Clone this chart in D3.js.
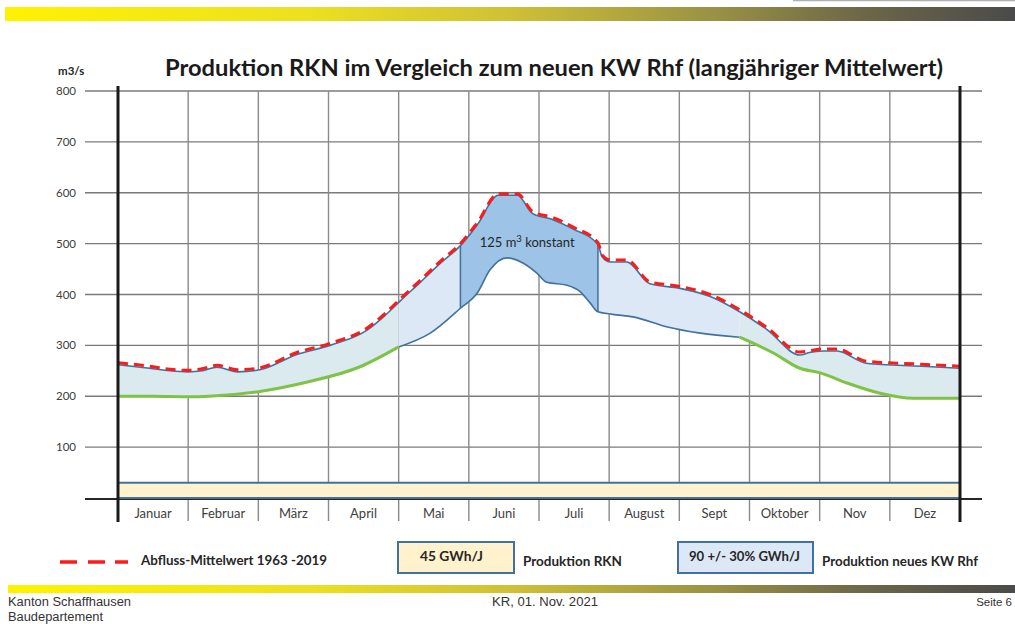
<!DOCTYPE html>
<html><head><meta charset="utf-8">
<script src="https://cdn.jsdelivr.net/npm/d3@7"></script>
<style>body{margin:0;background:#fff}svg{display:block}</style>
</head><body>
<script>
// ---- data (x = month position, 0 = start of Januar; y = m3/s) ----
const months = ["Januar","Februar","März","April","Mai","Juni","Juli","August","Sept","Oktober","Nov","Dez"];
const yTicks = [100,200,300,400,500,600,700,800];
const abflussMittel = [[0,266],[0.45,259],[0.74,253],[1.0,251],[1.2,254],[1.41,261],[1.7,252],[2.02,256],[2.55,286],[3.02,304],[3.55,334],[3.8,362],[4.02,391],[4.3,427],[4.6,466],[4.88,500],[5.12,541],[5.42,598],[5.69,598],[5.91,563],[6.2,551],[6.48,533],[6.84,502],[6.9,478],[7.01,468],[7.25,468],[7.58,425],[8.01,416],[8.44,400],[8.86,370],[9.25,335],[9.72,287],[10.05,293],[10.25,293],[10.66,269],[11.45,263],[12,259]];
const kwUpper = [[0,262],[0.45,255],[0.74,250],[1.0,248],[1.2,250],[1.41,257],[1.7,248],[2.02,252],[2.55,282],[3.02,300],[3.55,330],[3.8,358],[4.02,387],[4.3,423],[4.6,462],[4.88,496],[5.12,537],[5.42,595],[5.69,595],[5.91,559],[6.2,547],[6.48,529],[6.84,498],[6.9,474],[7.01,464],[7.25,464],[7.58,421],[8.01,412],[8.44,396],[8.86,366],[9.25,331],[9.72,281],[9.85,286],[10.05,289],[10.25,289],[10.66,265],[11.45,259],[12,255]];
const greenLeft = [[0,200],[0.5,200],[1.0,199],[1.3,200],[2.0,209],[2.7,228],[3.45,258],[4.0,297]];
const blueLower = [[4.0,297],[4.45,324],[4.88,373],[5.12,403],[5.3,448],[5.54,472],[5.77,462],[5.97,442],[6.11,424],[6.4,418],[6.59,405],[6.73,383],[6.84,366],[7.05,361],[7.34,356],[7.83,336],[8.3,324],[8.86,316]];
const greenRight = [[8.86,316],[9.34,285],[9.72,255],[10.01,246],[10.39,226],[10.86,206],[11.33,196],[12,196]];
const konstant = [4.88, 6.84];
const rknLevel = 30;

const W = 1015, H = 624;
const svg = d3.select("body").append("svg").attr("width", W).attr("height", H);
const defs = svg.append("defs");
const grad = defs.append("linearGradient").attr("id","bar").attr("x1","0").attr("x2","1");
[[0,"#fff200"],[0.3,"#ece020"],[0.5,"#cfc036"],[0.7,"#9a9244"],[0.85,"#6c6748"],[1,"#4a4a4a"]]
  .forEach(s => grad.append("stop").attr("offset", s[0]).attr("stop-color", s[1]));

const x = d3.scaleLinear().domain([0,12]).range([118,960]);
const y = d3.scaleLinear().domain([0,800]).range([498,91]);

// header / footer bars
svg.append("line").attr("x1",793).attr("x2",1015).attr("y1",0.5).attr("y2",0.5).attr("stroke","#b0b0b0").attr("stroke-width",1.5);
svg.append("rect").attr("x",5).attr("y",7).attr("width",1010).attr("height",14).attr("fill","url(#bar)");
svg.append("rect").attr("x",8).attr("y",585).attr("width",1007).attr("height",8).attr("fill","url(#bar)");

// clip paths
function clip(id, ranges){
  const c = defs.append("clipPath").attr("id", id);
  ranges.forEach(r => c.append("rect").attr("x", x(r[0])).attr("y", 0).attr("width", x(r[1]) - x(r[0])).attr("height", H));
}
clip("cOuter", [[0,4.0],[8.86,12]]);
clip("cMid", [[4.0,8.86]]);
clip("cKon", [konstant]);

// grid
const g = svg.append("g");
g.selectAll(".hg").data(yTicks).join("line")
  .attr("x1",85).attr("x2",982).attr("y1",d=>y(d)).attr("y2",d=>y(d))
  .attr("stroke","#7a7a7a").attr("stroke-width",1.4);
g.selectAll(".vg").data(d3.range(1,12)).join("line")
  .attr("x1",d=>x(d)).attr("x2",d=>x(d)).attr("y1",y(800)).attr("y2",521)
  .attr("stroke","#8a8a8a").attr("stroke-width",1.4);

// areas
const line = d3.line().x(d=>x(d[0])).y(d=>y(d[1])).curve(d3.curveMonotoneX);
const lowerAll = greenLeft.concat(blueLower.slice(1), greenRight.slice(1));
const poly = line(kwUpper) + "L" + line(lowerAll.slice().reverse()).slice(1) + "Z";
svg.append("path").attr("d", poly).attr("fill","#daeaee").attr("clip-path","url(#cOuter)");
svg.append("path").attr("d", poly).attr("fill","#dce8f5").attr("clip-path","url(#cMid)");
svg.append("path").attr("d", poly).attr("fill","#9dc3e6").attr("clip-path","url(#cKon)");
konstant.forEach(k => {
  const up = kwUpper.find(d=>d[0]===k)[1], lo = blueLower.find(d=>d[0]===k)[1];
  svg.append("line").attr("x1",x(k)).attr("x2",x(k)).attr("y1",y(lo)).attr("y2",y(up))
    .attr("stroke","#41719c").attr("stroke-width",1.5);
});

// lines
svg.append("path").attr("d", line(kwUpper)).attr("fill","none").attr("stroke","#41719c").attr("stroke-width",1.6);
svg.append("path").attr("d", line(blueLower)).attr("fill","none").attr("stroke","#41719c").attr("stroke-width",1.6);
[greenLeft, greenRight].forEach(a => svg.append("path").attr("d", line(a)).attr("fill","none").attr("stroke","#7ec345").attr("stroke-width",3));
svg.append("path").attr("d", line(abflussMittel)).attr("fill","none").attr("stroke","#ff1a1a").attr("stroke-width",3).attr("stroke-dasharray","10,6");

// x axis line & RKN band
svg.append("line").attr("x1",85).attr("x2",982).attr("y1",y(0)+1).attr("y2",y(0)+1).attr("stroke","#262626").attr("stroke-width",2);
svg.append("rect").attr("x",x(0)).attr("y",y(rknLevel)).attr("width",x(12)-x(0)).attr("height",y(0)-y(rknLevel))
  .attr("fill","#fff2cc").attr("stroke","#41719c").attr("stroke-width",2);

// thick axes
[0,12].forEach(m => svg.append("line").attr("x1",x(m)).attr("x2",x(m)).attr("y1",86).attr("y2",522).attr("stroke","#1a1a1a").attr("stroke-width",3));

// texts
const F = "Lato, 'Open Sans', sans-serif";
function txt(xp, yp, s, size, opts){
  const t = svg.append("text").attr("x",xp).attr("y",yp).attr("font-family",(opts&&opts.ff)||F)
    .attr("font-size",size).attr("fill",(opts&&opts.fill)||"#262626").text(s);
  if (opts && opts.bold) t.attr("font-weight","bold");
  if (opts && opts.len) t.attr("textLength",opts.len).attr("lengthAdjust","spacingAndGlyphs");
  if (opts && opts.anchor) t.attr("text-anchor",opts.anchor);
  return t;
}
svg.selectAll(".yl").data(yTicks).join("text")
  .attr("x",76).attr("y",d=>y(d)+4).attr("text-anchor","end")
  .attr("font-family",F).attr("font-size",11.5).attr("fill","#404040").text(d=>d);
txt(58, 75, "m3/s", 11.5, {bold:true});
txt(165, 76, "Produktion RKN im Vergleich zum neuen KW Rhf (langjähriger Mittelwert)", 22, {bold:true, fill:"#1a1a1a", len:778});
svg.selectAll(".ml").data(months).join("text")
  .attr("x",(d,i)=>x(i+0.5)).attr("y",518).attr("text-anchor","middle")
  .attr("font-family",F).attr("font-size",13).attr("fill","#404040").text(d=>d);

const kt = svg.append("text").attr("x",x((konstant[0]+konstant[1])/2)-2).attr("y",247).attr("text-anchor","middle")
  .attr("font-family",F).attr("font-size",13).attr("fill","#262626");
kt.append("tspan").text("125 m");
kt.append("tspan").attr("baseline-shift","super").attr("font-size",9.5).text("3");
kt.append("tspan").text(" konstant");

// legend
[[60,77],[88,105],[115,128]].forEach(s => svg.append("line").attr("x1",s[0]).attr("x2",s[1]).attr("y1",562).attr("y2",562).attr("stroke","#ff1a1a").attr("stroke-width",3.5));
txt(141, 565, "Abfluss-Mittelwert 1963 -2019", 13.4, {bold:true, len:186});
svg.append("rect").attr("x",398).attr("y",542).attr("width",116).attr("height",31).attr("fill","#fff2cc").attr("stroke","#41719c").attr("stroke-width",2);
txt(420, 561, "45 GWh/J", 13, {bold:true, len:63});
txt(523, 566, "Produktion RKN", 13.4, {bold:true, len:99});
svg.append("rect").attr("x",678).attr("y",542).attr("width",135).attr("height",31).attr("fill","#dce8f5").attr("stroke","#41719c").attr("stroke-width",2);
txt(689, 561, "90 +/- 30% GWh/J", 13, {bold:true, len:111});
txt(822, 566, "Produktion neues KW Rhf", 13.4, {bold:true, len:156});

// footer
const FA = "'Liberation Sans', Arial, sans-serif";
txt(8, 606, "Kanton Schaffhausen", 12, {ff:FA, fill:"#333", len:123});
txt(8, 621, "Baudepartement", 12, {ff:FA, fill:"#333", len:95});
txt(492, 606, "KR, 01. Nov.  2021", 12, {ff:FA, fill:"#333", len:106});
txt(1012, 606, "Seite 6", 11.5, {ff:FA, fill:"#333", anchor:"end"});
</script>
</body></html>
